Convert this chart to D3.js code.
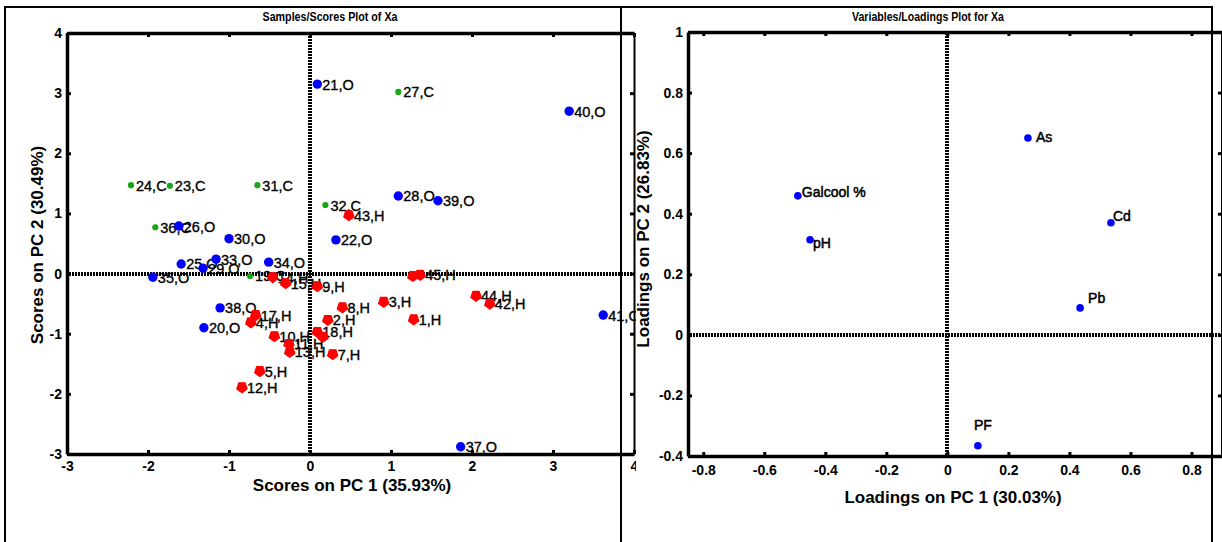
<!DOCTYPE html>
<html>
<head>
<meta charset="utf-8">
<script src="https://cdn.jsdelivr.net/npm/d3@7"></script>
<style>
  body { margin: 0; background: #fff; }
  svg { display: block; }
  text { font-family: "Liberation Sans", Arial, Helvetica, sans-serif; }
</style>
</head>
<body>
<svg id="fig" width="1222" height="542"></svg>
<script>
// ---- Scores on PC1 / PC2 for each sample (class O, C, H) ----
const sampleIds   = [21, 27, 40, 24, 23, 31, 28, 39, 32, 43, 36, 26, 30, 22, 25, 29, 33, 34, 35, 19, 14, 15, 9, 8, 2, 18, 16, 17, 4, 10, 11, 13, 7, 5, 12, 6, 45, 3, 1, 44, 42, 41, 37, 38, 20];
const sampleClass = ["O","C","O","C","C","C","O","O","C","H","C","O","O","O","O","O","O","O","O","C","H","H","H","H","H","H","H","H","H","H","H","H","H","H","H","H","H","H","H","H","H","O","O","O","O"];
const pc1Scores   = [0.09, 1.09, 3.20, -2.21, -1.73, -0.65, 1.09, 1.58, 0.19, 0.48, -1.91, -1.62, -1.00, 0.32, -1.59, -1.32, -1.16, -0.51, -1.94, -0.74, -0.46, -0.30, 0.09, 0.40, 0.22, 0.09, 0.16, -0.67, -0.73, -0.44, -0.26, -0.25, 0.28, -0.62, -0.84, 1.27, 1.36, 0.91, 1.28, 2.05, 2.22, 3.62, 1.86, -1.11, -1.31];
const pc2Scores   = [3.15, 3.02, 2.70, 1.47, 1.46, 1.47, 1.29, 1.21, 1.14, 0.97, 0.77, 0.79, 0.58, 0.56, 0.16, 0.09, 0.24, 0.19, -0.06, -0.04, -0.06, -0.16, -0.21, -0.56, -0.77, -0.97, -1.05, -0.69, -0.81, -1.04, -1.17, -1.30, -1.34, -1.62, -1.89, -0.04, -0.02, -0.47, -0.76, -0.37, -0.50, -0.69, -2.88, -0.57, -0.90];

// ---- Loadings on PC1 / PC2 for each variable ----
const variableNames = ["Galcool %", "pH", "As", "Cd", "Pb", "PF"];
const loadPC1 = [-0.49, -0.45, 0.264, 0.536, 0.435, 0.100];
const loadPC2 = [0.459, 0.314, 0.650, 0.370, 0.089, -0.366];

// ---- Tick values ----
const scoreTicks = [-3, -2, -1, 0, 1, 2, 3, 4];
const loadTicksX = [-0.8, -0.6, -0.4, -0.2, 0, 0.2, 0.4, 0.6, 0.8];
const loadTicksY = [-0.4, -0.2, 0, 0.2, 0.4, 0.6, 0.8, 1];

// ---- Text ----
const leftTitle  = "Samples/Scores Plot of Xa";
const rightTitle = "Variables/Loadings Plot for Xa";
const leftXLabel = "Scores on PC 1 (35.93%)";
const leftYLabel = "Scores on PC 2 (30.49%)";
const rightXLabel = "Loadings on PC 1 (30.03%)";
const rightYLabel = "Loadings on PC 2 (26.83%)";

// ---- Styling ----
const classColor = { O: "#0000ff", C: "#14a814", H: "#ff0000" };
// samples whose labels sit hidden under neighbouring markers
const buriedLabels = new Set([6, 16]);
// label nudges for the loadings plot (dx, dy from the marker)
const loadLabelOffset = {
  "Galcool %": [4, -4], "pH": [3, 3], "As": [8, -1],
  "Cd": [2, -7], "Pb": [8, -10], "PF": [-4, -21]
};

const svg = d3.select("#fig");

// Panel frames
svg.append("rect").attr("x", 5).attr("y", 7).attr("width", 616).attr("height", 545)
  .attr("fill", "none").attr("stroke", "#000").attr("stroke-width", 2);
svg.append("rect").attr("x", 621).attr("y", 7).attr("width", 591).attr("height", 545)
  .attr("fill", "none").attr("stroke", "#000").attr("stroke-width", 2);

// Draw a framed axes box with inward ticks on all four sides
function frame(g, x, y, xt, yt, xPad, yPad, rightWidth) {
  const [x0, x1] = x.range();
  const [y0, y1] = y.range(); // y0 bottom, y1 top
  const fmt = d => String(d);
  const styleAxis = (a, w) => {
    a.select(".domain").attr("stroke", "#000").attr("stroke-width", w);
    a.selectAll(".tick line").attr("stroke", "#000").attr("stroke-width", 3);
    a.selectAll(".tick text").attr("fill", "#000").attr("font-size", 14)
      .attr("font-weight", "bold").attr("font-family", '"Liberation Sans", Arial, sans-serif');
  };
  const top = g.append("g").attr("transform", `translate(0,${y1})`)
    .call(d3.axisTop(x).tickValues(xt).tickSize(-4).tickSizeOuter(0).tickFormat(""));
  styleAxis(top, 3.5);
  const right = g.append("g").attr("transform", `translate(${x1},0)`)
    .call(d3.axisRight(y).tickValues(yt).tickSize(-4).tickSizeOuter(0).tickFormat(""));
  styleAxis(right, rightWidth);
  const bottom = g.append("g").attr("transform", `translate(0,${y0})`)
    .call(d3.axisBottom(x).tickValues(xt).tickSize(-4).tickSizeOuter(0).tickPadding(xPad).tickFormat(fmt));
  styleAxis(bottom, 3.5);
  const left = g.append("g").attr("transform", `translate(${x0},0)`)
    .call(d3.axisLeft(y).tickValues(yt).tickSize(-4).tickSizeOuter(0).tickPadding(yPad).tickFormat(fmt));
  styleAxis(left, 3.5);
}

// Heavy dotted zero lines
function zeroLines(g, x, y) {
  const [x0, x1] = x.range();
  const [y0, y1] = y.range();
  const vx = Math.round(x(0)), hy = Math.round(y(0));
  g.append("rect").attr("x", vx - 2).attr("y", y1).attr("width", 4).attr("height", y0 - y1)
    .attr("fill", "url(#dotV)");
  g.append("rect").attr("x", x0).attr("y", hy - 2).attr("width", x1 - x0).attr("height", 4)
    .attr("fill", "url(#dotH)");
}

function axisText(g, txt, x, y, rot, size) {
  g.append("text").attr("transform", `translate(${x},${y}) rotate(${rot})`)
    .attr("text-anchor", "middle").attr("font-size", size).attr("font-weight", "bold")
    .attr("fill", "#000").text(txt);
}

const defs = svg.append("defs");
defs.append("clipPath").attr("id", "leftClip")
  .append("rect").attr("x", 0).attr("y", 0).attr("width", 636).attr("height", 542);
// 2px black / 1px white repeating dot patterns
const pv = defs.append("pattern").attr("id", "dotV").attr("patternUnits", "userSpaceOnUse")
  .attr("width", 4).attr("height", 3);
pv.append("rect").attr("width", 4).attr("height", 2).attr("fill", "#000");
const ph = defs.append("pattern").attr("id", "dotH").attr("patternUnits", "userSpaceOnUse")
  .attr("width", 3).attr("height", 4);
ph.append("rect").attr("width", 2).attr("height", 4).attr("fill", "#000");

// ================= Scores plot =================
const sx = d3.scaleLinear().domain([-3, 4]).range([67, 634]);
const sy = d3.scaleLinear().domain([-3, 4]).range([454, 33]);

const gl = svg.append("g").attr("clip-path", "url(#leftClip)");
zeroLines(gl, sx, sy);

const samples = sampleIds.map((id, i) => ({
  id, cls: sampleClass[i], x: pc1Scores[i], y: pc2Scores[i]
}));

// labels first, markers on top
gl.append("g").selectAll("text").data(samples.filter(d => !buriedLabels.has(d.id))).join("text")
  .attr("x", d => sx(d.x) + 5)
  .attr("y", d => sy(d.y) + 5.5)
  .attr("font-size", 14.5)
  .attr("fill", "#000").attr("stroke", "#000").attr("stroke-width", 0.35)
  .text(d => `${d.id},${d.cls}`);

const pentDown = r => {
  const pts = [90, 162, 234, 306, 18].map(a => {
    const t = a * Math.PI / 180;
    return [r * Math.cos(t), r * Math.sin(t)];
  });
  return "M" + pts.map(p => p.join(",")).join("L") + "Z";
};

const marks = gl.append("g");
marks.selectAll("path.h").data(samples.filter(d => d.cls === "H")).join("path")
  .attr("class", "h")
  .attr("transform", d => `translate(${sx(d.x)},${sy(d.y)})`)
  .attr("d", pentDown(5.4))
  .attr("fill", classColor.H).attr("stroke", classColor.H).attr("stroke-width", 1.2)
  .attr("stroke-linejoin", "round");
marks.selectAll("circle.o").data(samples.filter(d => d.cls === "O")).join("circle")
  .attr("class", "o")
  .attr("cx", d => sx(d.x)).attr("cy", d => sy(d.y)).attr("r", 4.7)
  .attr("fill", classColor.O);
marks.selectAll("circle.c").data(samples.filter(d => d.cls === "C")).join("circle")
  .attr("class", "c")
  .attr("cx", d => sx(d.x)).attr("cy", d => sy(d.y)).attr("r", 3.1)
  .attr("fill", classColor.C);

frame(gl, sx, sy, scoreTicks, scoreTicks, 7, 5, 2);

svg.append("text").attr("x", 330).attr("y", 21).attr("text-anchor", "middle")
  .attr("font-size", 13.5).attr("font-weight", "bold").attr("fill", "#000")
  .attr("textLength", 135).attr("lengthAdjust", "spacingAndGlyphs").text(leftTitle);
axisText(svg, leftXLabel, 352, 491, 0, 17);
axisText(svg, leftYLabel, 43, 245, -90, 17);

// ================= Loadings plot =================
const lx = d3.scaleLinear().domain([-0.85, 0.9]).range([688, 1222]);
const ly = d3.scaleLinear().domain([-0.4, 1]).range([456, 32]);

const gr = svg.append("g");
zeroLines(gr, lx, ly);

const loads = variableNames.map((name, i) => ({ name, x: loadPC1[i], y: loadPC2[i] }));

gr.append("g").selectAll("circle").data(loads).join("circle")
  .attr("cx", d => lx(d.x)).attr("cy", d => ly(d.y)).attr("r", 3.8)
  .attr("fill", "#0000ff");

gr.append("g").selectAll("text").data(loads).join("text")
  .attr("x", d => lx(d.x) + loadLabelOffset[d.name][0])
  .attr("y", d => ly(d.y) + loadLabelOffset[d.name][1] + 5)
  .attr("font-size", 14).attr("fill", "#000").attr("stroke", "#000").attr("stroke-width", 0.5)
  .text(d => d.name);

frame(gr, lx, ly, loadTicksX, loadTicksY, 9, 5, 3);

svg.append("text").attr("x", 928).attr("y", 21).attr("text-anchor", "middle")
  .attr("font-size", 13.5).attr("font-weight", "bold").attr("fill", "#000")
  .attr("textLength", 152).attr("lengthAdjust", "spacingAndGlyphs").text(rightTitle);
axisText(svg, rightXLabel, 953, 503, 0, 17);
axisText(svg, rightYLabel, 649, 239, -90, 17);
</script>
</body>
</html>
